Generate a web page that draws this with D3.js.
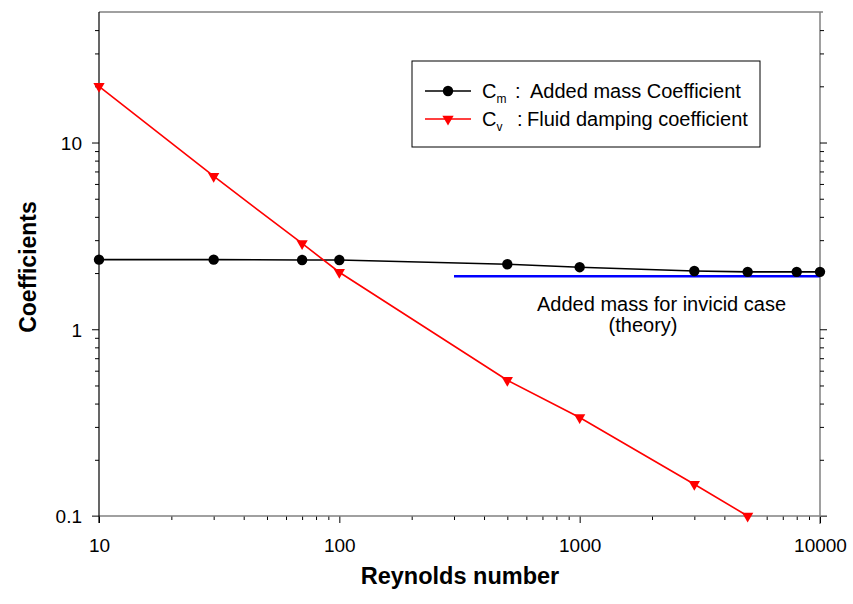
<!DOCTYPE html>
<html>
<head>
<meta charset="utf-8">
<script src="https://cdn.jsdelivr.net/npm/d3@7"></script>
<style>
  body { margin: 0; background: #fff; }
  text { font-family: "Liberation Sans", Arial, sans-serif; fill: #000; }
</style>
</head>
<body>
<div id="chart"></div>
<script>
// Reynolds numbers where the coefficients were computed
const reCm = [10, 30, 70, 100, 500, 1000, 3000, 5000, 8000, 10000];
const cmValues = [2.36, 2.36, 2.35, 2.35, 2.23, 2.15, 2.05, 2.03, 2.03, 2.03];

const reCv = [10, 30, 70, 100, 500, 1000, 3000, 5000];
const cvValues = [20, 6.6, 2.88, 2.02, 0.533, 0.337, 0.148, 0.1];

// theoretical added mass (inviscid)
const theoryRe = [300, 10000];
const theoryValue = 1.92;

const xMajorTicks = [10, 100, 1000, 10000];
const yMajorTicks = [0.1, 1, 10];
const xTickLabels = ["10", "100", "1000", "10000"];
const yTickLabels = ["0.1", "1", "10"];

const W = 853, H = 604;
const plot = { left: 99, right: 820, top: 12, bottom: 516 };

const svg = d3.select("#chart").append("svg")
  .attr("width", W).attr("height", H);

const x = d3.scaleLog().domain([10, 10000]).range([plot.left, plot.right]);
const y = d3.scaleLog().domain([0.1, 50]).range([plot.bottom, plot.top]);

// minor ticks: 2..9 of each decade
const minorsBetween = (lo, hi) => {
  const out = [];
  for (let d = lo; d < hi; d *= 10) {
    for (let k = 2; k <= 9; k++) out.push(d * k);
  }
  return out;
};
const xMinor = minorsBetween(10, 10000);
const yMinor = minorsBetween(0.1, 10).concat([20, 30, 40]);

// frame lines
svg.append("line")
  .attr("x1", plot.left).attr("x2", plot.right + 3).attr("y1", plot.top).attr("y2", plot.top)
  .attr("stroke", "#808080").attr("stroke-width", 1.5);
svg.append("line")
  .attr("x1", plot.right).attr("x2", plot.right).attr("y1", plot.top).attr("y2", plot.bottom + 8)
  .attr("stroke", "#808080").attr("stroke-width", 1.5);

// axis helper
function drawAxis(axisFn, scale, major, minor, transform, labels) {
  const gMinor = svg.append("g").attr("transform", transform)
    .call(axisFn(scale).tickValues(minor).tickSize(4).tickFormat(""));
  const gMajor = svg.append("g").attr("transform", transform)
    .call(axisFn(scale).tickValues(major).tickSize(7)
      .tickFormat((d, i) => labels ? labels[i] : ""));
  [gMinor, gMajor].forEach(g => {
    g.select(".domain").remove();
    g.selectAll(".tick line").attr("stroke", "#000").attr("stroke-width", 1);
  });
  return gMajor;
}

// bottom axis
const gx = drawAxis(d3.axisBottom, x, xMajorTicks, xMinor, `translate(0,${plot.bottom})`, xTickLabels);
gx.selectAll(".tick text")
  .attr("y", 23).attr("dy", "0.71em")
  .style("font-size", "19px").style("font-family", "Liberation Sans, Arial, sans-serif");

// left axis
const gy = drawAxis(d3.axisLeft, y, yMajorTicks, yMinor, `translate(${plot.left},0)`, yTickLabels);
gy.selectAll(".tick text")
  .attr("x", -17).attr("dy", "0.36em")
  .style("font-size", "19px").style("font-family", "Liberation Sans, Arial, sans-serif");

// right axis (ticks only)
drawAxis(d3.axisRight, y, yMajorTicks, yMinor, `translate(${plot.right},0)`, null);

svg.append("line")
  .attr("x1", plot.left - 7).attr("x2", plot.right + 7).attr("y1", plot.bottom).attr("y2", plot.bottom)
  .attr("stroke", "#808080").attr("stroke-width", 1.5);
svg.append("line")
  .attr("x1", plot.left).attr("x2", plot.left).attr("y1", plot.top).attr("y2", plot.bottom + 7)
  .attr("stroke", "#000").attr("stroke-width", 1.2);

// axis titles
svg.append("text")
  .attr("x", 460).attr("y", 584)
  .attr("text-anchor", "middle")
  .style("font-size", "23.5px").style("font-weight", "bold")
  .text("Reynolds number");

svg.append("text")
  .attr("transform", `translate(36,${(plot.top + plot.bottom) / 2 + 3}) rotate(-90)`)
  .attr("text-anchor", "middle")
  .style("font-size", "23px").style("font-weight", "bold")
  .text("Coefficients");

// theory line
svg.append("line")
  .attr("x1", x(theoryRe[0])).attr("x2", x(theoryRe[1]))
  .attr("y1", y(theoryValue)).attr("y2", y(theoryValue))
  .attr("stroke", "#0000ff").attr("stroke-width", 2.5);

svg.append("text")
  .attr("x", 537).attr("y", 311)
  .style("font-size", "20px")
  .text("Added mass for invicid case");
svg.append("text")
  .attr("x", 643).attr("y", 332)
  .attr("text-anchor", "middle")
  .style("font-size", "20px")
  .text("(theory)");

// series
const cmData = reCm.map((r, i) => ({ re: r, v: cmValues[i] }));
const cvData = reCv.map((r, i) => ({ re: r, v: cvValues[i] }));

const line = d3.line()
  .x(d => x(d.re))
  .y(d => y(d.v));

svg.append("path")
  .datum(cmData)
  .attr("fill", "none").attr("stroke", "#000").attr("stroke-width", 1.6)
  .attr("d", line);

svg.append("path")
  .datum(cvData)
  .attr("fill", "none").attr("stroke", "#ff0000").attr("stroke-width", 1.6)
  .attr("d", line);

svg.selectAll(".dot-cm")
  .data(cmData)
  .enter()
  .append("circle")
  .attr("cx", d => x(d.re))
  .attr("cy", d => y(d.v))
  .attr("r", 5.2)
  .attr("fill", "#000");

const tri = d3.symbol().type(d3.symbolTriangle).size(55);

svg.selectAll(".dot-cv")
  .data(cvData)
  .enter()
  .append("path")
  .attr("d", tri)
  .attr("transform", d => `translate(${x(d.re)},${y(d.v)}) rotate(180)`)
  .attr("fill", "#ff0000");

// legend
const legend = svg.append("g");
legend.append("rect")
  .attr("x", 412).attr("y", 61).attr("width", 348).attr("height", 86)
  .attr("fill", "#fff").attr("stroke", "#000").attr("stroke-width", 1);

const legendData = [
  { color: "#000", marker: "circle", sub: "m", colon: 515, label: "Added mass Coefficient", lx: 530, y: 91 },
  { color: "#ff0000", marker: "tri", sub: "v", colon: 517, label: "Fluid damping coefficient", lx: 527, y: 119 },
];

legendData.forEach(d => {
  legend.append("line")
    .attr("x1", 425).attr("x2", 471).attr("y1", d.y).attr("y2", d.y)
    .attr("stroke", d.color).attr("stroke-width", 1.6);
  if (d.marker === "circle") {
    legend.append("circle").attr("cx", 448).attr("cy", d.y).attr("r", 5.2).attr("fill", d.color);
  } else {
    legend.append("path").attr("d", tri)
      .attr("transform", `translate(448,${d.y}) rotate(180)`).attr("fill", d.color);
  }
  const t = legend.append("text").attr("x", 482).attr("y", d.y + 7).style("font-size", "20px");
  t.append("tspan").text("C");
  t.append("tspan").attr("dy", 5).style("font-size", "12px").text(d.sub);
  legend.append("text").attr("x", d.colon).attr("y", d.y + 7).style("font-size", "20px").text(":");
  legend.append("text").attr("x", d.lx).attr("y", d.y + 7).style("font-size", "20px").text(d.label);
});
</script>
</body>
</html>
